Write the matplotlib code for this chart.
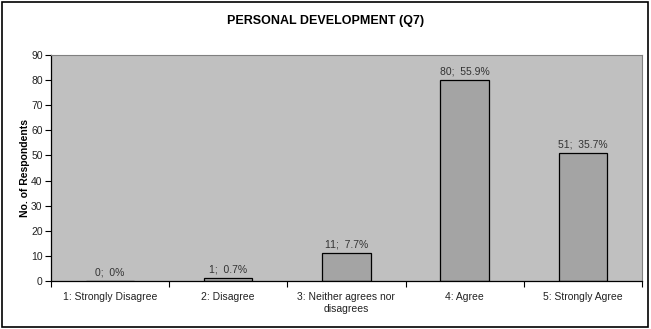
import matplotlib

matplotlib.use("Agg")
import matplotlib.pyplot as plt
from matplotlib.patches import Rectangle
import numpy as np

categories = ["1: Strongly Disagree", "2: Disagree", "3: Neither agrees nor\ndisagrees", "4: Agree", "5: Strongly Agree"]
counts = [0, 1, 11, 80, 51]
percents = ["0%", "0.7%", "7.7%", "55.9%", "35.7%"]
yticks = [0, 10, 20, 30, 40, 50, 60, 70, 80, 90]

plt.rcParams["font.family"] = ["Liberation Sans", "DejaVu Sans"]

fig = plt.figure(figsize=(6.51, 3.29), dpi=100)
ax = fig.add_axes([0.0783, 0.146, 0.9077, 0.687])
ax.set_facecolor("#c0c0c0")

x = np.arange(len(categories))
ax.bar(x, counts, width=0.41, color="#a4a4a4", edgecolor="black", linewidth=0.9, zorder=2)
for xi, c, p in zip(x, counts, percents):
    ax.text(xi, c + 1.5, f"{c};  {p}", ha="center", va="bottom", fontsize=7.5, color="#333333")

ax.set_xlim(-0.5, len(categories) - 0.5)
ax.set_ylim(0, 90)
ax.set_yticks(yticks)
ax.set_xticks(x)
ax.set_xticklabels(categories, fontsize=7.5, color="#222222")
ax.set_xticks(np.arange(len(categories) + 1) - 0.5, minor=True)
ax.tick_params(axis="x", which="major", length=0, pad=8)
ax.tick_params(axis="x", which="minor", length=4, width=0.8, direction="out")
ax.tick_params(axis="y", labelsize=7.5, length=4, width=0.8, pad=2, labelcolor="#222222")
ax.set_ylabel("No. of Respondents", fontsize=7.5, fontweight="bold", labelpad=1)
for s in ["top", "right"]:
    ax.spines[s].set_color("#808080")
    ax.spines[s].set_linewidth(0.8)
for s in ["left", "bottom"]:
    ax.spines[s].set_color("black")
    ax.spines[s].set_linewidth(0.9)

fig.text(0.5, 0.937, "PERSONAL DEVELOPMENT (Q7)", ha="center", va="center", fontsize=9, fontweight="bold")
fig.patches.append(Rectangle((0.003, 0.006), 0.993, 0.988, transform=fig.transFigure,
                             fill=False, edgecolor="black", linewidth=1.2))

fig.savefig("out.png", dpi=100)
